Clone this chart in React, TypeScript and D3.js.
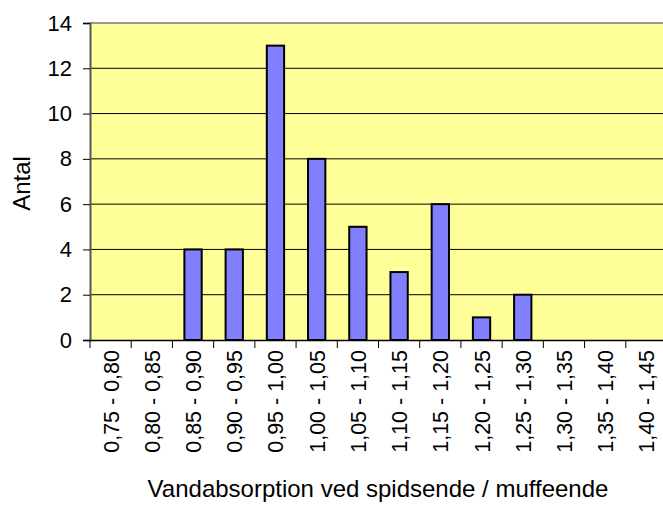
import React, { useEffect, useRef } from "react";
import * as d3 from "d3";

// intervals on the x axis
const categories = [
  "0,75 - 0,80", "0,80 - 0,85", "0,85 - 0,90", "0,90 - 0,95", "0,95 - 1,00",
  "1,00 - 1,05", "1,05 - 1,10", "1,10 - 1,15", "1,15 - 1,20", "1,20 - 1,25",
  "1,25 - 1,30", "1,30 - 1,35", "1,35 - 1,40", "1,40 - 1,45",
];
const counts = [0, 0, 4, 4, 13, 8, 5, 3, 6, 1, 2, 0, 0, 0];
const yTicks = [0, 2, 4, 6, 8, 10, 12, 14];

const App = () => {
  const ref = useRef(null);

  useEffect(() => {
    document.body.style.margin = "0";
    const W = 663, H = 507;
    const margin = { top: 23, right: -4, bottom: 167, left: 90 };
    const width = W - margin.left - margin.right;
    const height = H - margin.top - margin.bottom;

    const svg = d3.select(ref.current);
    svg.selectAll("*").remove();
    const g = svg.append("g").attr("transform", `translate(${margin.left},${margin.top})`);

    const x = d3.scaleBand().domain(categories).range([0, width]);
    const y = d3.scaleLinear().domain([0, 14]).range([height, 0]);

    g.append("rect").attr("width", width).attr("height", height).attr("fill", "#ffff99");

    // gridlines
    g.selectAll(".grid").data(yTicks.filter(d => d > 0 && d < 14)).enter()
      .append("line")
      .attr("x1", 0).attr("x2", width)
      .attr("y1", d => y(d)).attr("y2", d => y(d))
      .attr("stroke", "#000").attr("stroke-width", 1);

    // top border
    g.append("line").attr("x1", 0).attr("x2", width).attr("y1", y(14)).attr("y2", y(14))
      .attr("stroke", "#999").attr("stroke-width", 2);

    const bw = x.bandwidth() * 0.42;
    g.selectAll(".bar").data(counts).enter()
      .append("rect")
      .attr("x", (d, i) => x(categories[i]) + x.bandwidth() / 2 - bw / 2)
      .attr("y", d => y(d))
      .attr("width", bw)
      .attr("height", d => height - y(d))
      .attr("fill", d => (d > 0 ? "#8080ff" : "none"))
      .attr("stroke", d => (d > 0 ? "#000" : "none"))
      .attr("stroke-width", 2);

    const font = "Arial, 'Liberation Sans', sans-serif";
    const fs = 22;

    // y axis
    const yAxis = g.append("g").call(d3.axisLeft(y).tickValues(yTicks).tickSize(7).tickPadding(11));
    yAxis.select(".domain").attr("stroke", "#555").attr("stroke-width", 2);
    yAxis.selectAll(".tick line").attr("stroke", "#000");
    yAxis.selectAll("text").attr("font-family", font).attr("font-size", fs).attr("fill", "#000");

    // x axis
    const xAxis = g.append("g").attr("transform", `translate(0,${height})`)
      .call(d3.axisBottom(x).tickSize(0).tickFormat(() => ""));
    xAxis.select(".domain").attr("stroke", "#000").attr("stroke-width", 1.5);
    xAxis.selectAll(".sep").data(d3.range(categories.length + 1)).enter()
      .append("line")
      .attr("x1", i => i * x.step()).attr("x2", i => i * x.step())
      .attr("y1", 0).attr("y2", 8)
      .attr("stroke", "#000");

    g.append("g").selectAll("text").data(categories).enter()
      .append("text")
      .attr("transform", d => `translate(${x(d) + x.bandwidth() / 2 + 8},${height + 10}) rotate(-90)`)
      .attr("text-anchor", "end")
      .attr("font-family", font)
      .attr("font-size", 21.5)
      .text(d => d);

    svg.append("text")
      .attr("transform", `translate(30,${margin.top + height / 2 + 2}) rotate(-90)`)
      .attr("text-anchor", "middle")
      .attr("font-family", font)
      .attr("font-size", 24)
      .text("Antal");

    svg.append("text")
      .attr("x", 378)
      .attr("y", 497)
      .attr("text-anchor", "middle")
      .attr("font-family", font)
      .attr("font-size", 24)
      .text("Vandabsorption ved spidsende / muffeende");
  }, []);

  return <svg ref={ref} width={663} height={507} style={{ display: "block" }} />;
};

export default App;
